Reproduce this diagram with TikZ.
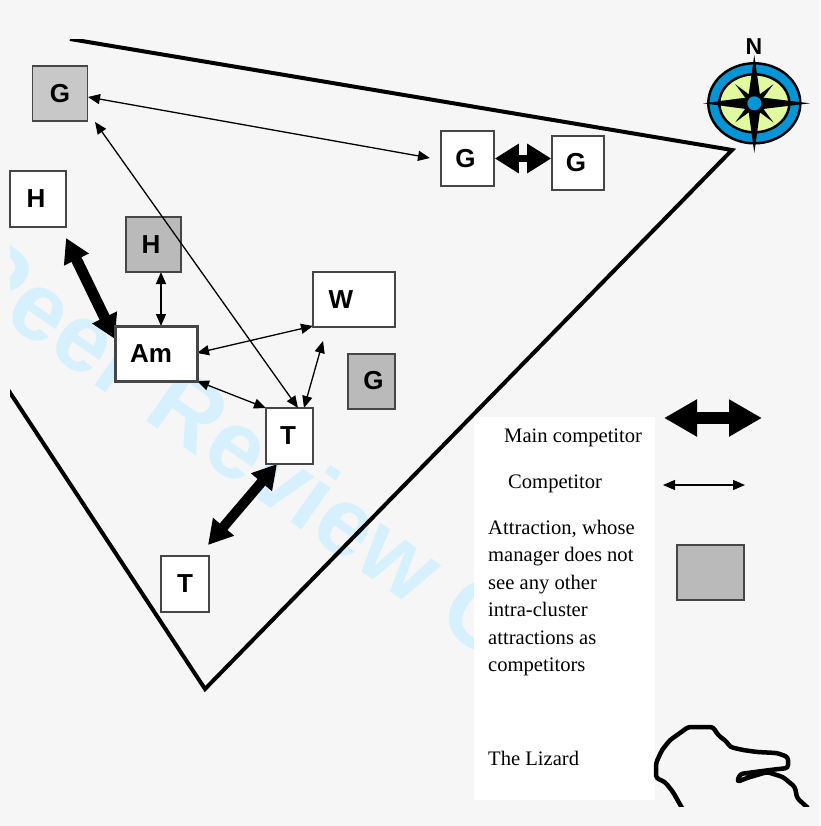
\documentclass[tikz,border=0pt]{standalone}
\usepackage{fontspec}
\setmainfont{Liberation Serif}
\newfontfamily\labelfont{Liberation Sans}
\usetikzlibrary{calc,positioning}
\usetikzlibrary{arrows.meta}
\definecolor{bg_page}{RGB}{246, 246, 246}
\definecolor{tile_gray}{RGB}{186, 186, 186}
\definecolor{tile_pale}{RGB}{200, 200, 200}
\definecolor{edge_gray}{RGB}{70, 70, 70}
\definecolor{mark_blue}{RGB}{214, 240, 253}
\definecolor{compass_blue}{RGB}{0, 150, 214}
\definecolor{compass_green}{RGB}{225, 250, 160}
\tikzset{
	tile/.style={draw=edge_gray,fill=white,line width=1.6pt,inner sep=0pt,
		font=\labelfont\bfseries\fontsize{26}{28}\selectfont},
	graytile/.style={tile,fill=tile_gray},
	rival/.style={<->,>={Triangle[width=10pt,length=12pt]},line width=1.3pt},
	mainrival/.style={<->,>={Triangle[width=26pt,length=24pt]},line width=10pt},
	keytext/.style={anchor=west,inner sep=0pt,font=\fontsize{20.6}{27.4}\selectfont},
}

\begin{document}
\begin{tikzpicture}[x=1pt,y=-1pt]
	\useasboundingbox (0,0) rectangle (820,826);
	\fill[bg_page] (0,0) rectangle (820,826);

	% Watermark and cluster outline
	\begin{scope}
		\clip (10,40) rectangle (820,806);
		\node[text=mark_blue,rotate=-35,anchor=west,inner sep=0pt,
			font=\labelfont\bfseries\fontsize{96}{96}\selectfont] (stamp) at (-31,255) {Peer Review O};
		\draw[line width=4pt,miter limit=10] (70,39) -- (732,150) -- (205,689) -- (-20,347);
	\end{scope}

	% Key panel
	\fill[white] (474,417) rectangle (655,800);
	\node[keytext] (keymain) at (504,438) {Main competitor};
	\node[keytext] (keyrival) at (508,484) {Competitor};
	\node[keytext,align=left,anchor=north west] (keygray) at (488,520)
		{Attraction, whose\\manager does not\\see any other\\intra-cluster\\attractions as\\competitors};
	\node[keytext] (keylizard) at (488,758) {The Lizard};
	\node[graytile,minimum width=67pt,minimum height=55pt] (keybox) at (710.5,572.5) {};
	\coordinate (keymainl) at (664,418);
	\coordinate (keymainr) at (762,418);
	\coordinate (keyrivall) at (663,485);
	\coordinate (keyrivalr) at (745,485);
	\draw[mainrival,>={Triangle[width=35pt,length=33pt]},line width=12pt] (keymainl) -- (keymainr);
	\draw[rival] (keyrivall) -- (keyrivalr);

	% Competitors
	\coordinate (honeend) at (66,238);
	\coordinate (amcorner) at (115,339);
	\coordinate (ttwoend) at (208,545);
	\coordinate (toneend) at (277,464);
	\coordinate (wend) at (323,341);
	\coordinate (goneside) at (88,97);
	\coordinate (gonefoot) at (95,122);
	\coordinate (gtwoside) at (430,158);
	\coordinate (htwofoot) at (161,272);
	\coordinate (amtop) at (161,326);
	\coordinate (amright) at (197,353);
	\coordinate (wcorner) at (313,326);
	\coordinate (ambase) at (197,381);
	\coordinate (tonecorner) at (266,408);
	\coordinate (tonetopa) at (298,408);
	\coordinate (tonetopb) at (304,408);

	\draw[rival] (goneside) -- (gtwoside);
	\draw[rival] (htwofoot) -- (amtop);
	\draw[rival] (amright) -- (wcorner);
	\draw[rival] (ambase) -- (tonecorner);
	\draw[rival] (tonetopb) -- (wend);
	\draw[mainrival,line width=11pt] (honeend) -- (amcorner);
	\draw[mainrival] (ttwoend) -- (toneend);

	% Attractions
	\node[tile,fill=tile_pale,minimum width=55pt,minimum height=55pt] (gone) at (60,93.5) {G};
	\node[tile,minimum width=53pt,minimum height=55pt] (gtwo) at (467.5,158.5) {\kern-4pt G};
	\node[tile,minimum width=52pt,minimum height=54pt] (gthree) at (578,163) {\kern-4pt G};
	\node[tile,minimum width=56pt,minimum height=56pt] (hone) at (38,199) {\kern-4pt H};
	\node[graytile,minimum width=55pt,minimum height=55pt] (htwo) at (153.5,244.5) {\kern-5pt H};
	\node[tile,line width=3pt,minimum width=82pt,minimum height=55pt] (am) at (156,353.5) {\kern-10pt Am};
	\node[tile,minimum width=82pt,minimum height=55pt] (w) at (354,299.5) {\kern-26pt W};
	\node[graytile,minimum width=47pt,minimum height=55pt] (gfour) at (371.5,381.5) {\kern4pt\raisebox{3pt}{G}};
	\node[tile,minimum width=47pt,minimum height=56pt] (tone) at (289.5,436) {\kern-3pt T};
	\node[tile,minimum width=48pt,minimum height=56pt] (ttwo) at (185,584) {T};

	\draw[rival] (gonefoot) -- (tonetopa);
	\draw[mainrival,>={Triangle[width=28pt,length=24pt]},line width=7pt] (gtwo.east) -- (gtwo.east -| gthree.west);

	% Lizard coast
	\begin{scope}
		\clip (600,700) rectangle (820,806);
		\draw[line width=4.5pt,line join=round,rounded corners=3pt] (682,808) -- (673,792) -- (665,782) -- (656,778)
			-- (656,763) -- (662,750) -- (670,740) -- (680,733) -- (688,727) -- (713,727)
			-- (718,735) -- (727,742) -- (730,747) -- (743,750) -- (757,752) -- (777,753)
			-- (788,757) -- (788,768) -- (770,770) -- (740,774) -- (737,782) -- (747,778)
			-- (767,772) -- (783,777) -- (795,787) -- (797,798) -- (808,808);
	\end{scope}

	% Compass
	\def\cx{754.3}
	\def\cy{103.3}
	\filldraw[fill=compass_blue,line width=2.5pt] (\cx,\cy) ellipse (46pt and 40pt);
	\filldraw[fill=compass_green,line width=2.5pt] (\cx,\cy) ellipse (35pt and 29pt);
	\foreach \a in {45,135,225,315}{
		\fill ($(\cx,\cy)+(\a:27pt)$) -- ($(\cx,\cy)+(\a+90:4pt)$) -- ($(\cx,\cy)+(\a+180:4pt)$)
			-- ($(\cx,\cy)+(\a-90:4pt)$) -- cycle;
	}
	\fill (\cx,55) -- (\cx+6,\cy-6) -- (810,\cy) -- (\cx+6,\cy+6) -- (\cx,153)
		-- (\cx-6,\cy+6) -- (703,\cy) -- (\cx-6,\cy-6) -- cycle;
	\fill[compass_blue] (\cx,\cy) circle (7pt);
	\node[inner sep=0pt,font=\labelfont\bfseries\fontsize{23}{23}\selectfont] (north) at (754,47) {N};
\end{tikzpicture}
\end{document}
